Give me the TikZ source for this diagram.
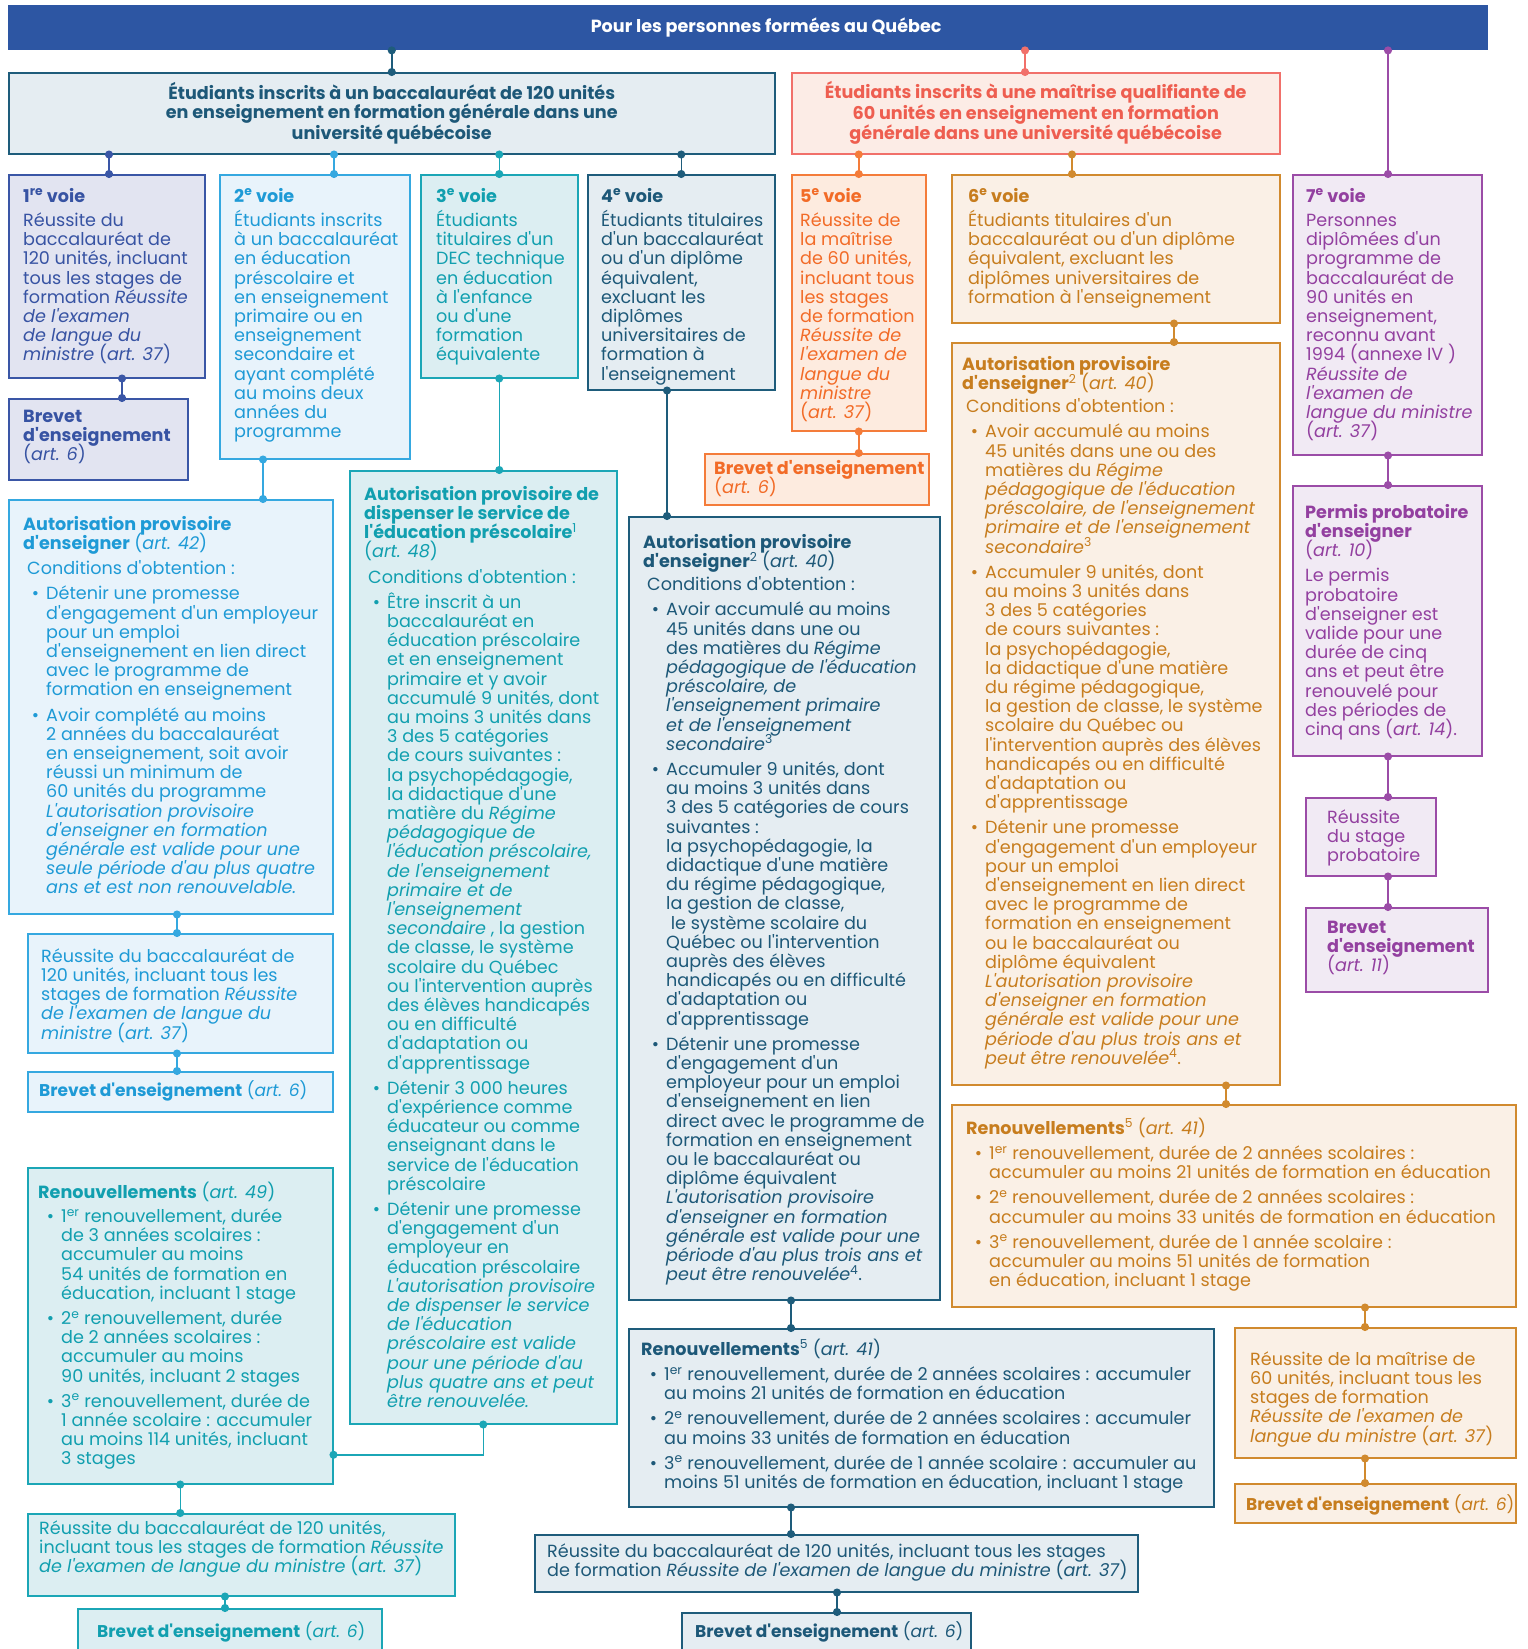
\documentclass[tikz,border=0pt]{standalone}
\usepackage{fontspec}
\setmainfont{Poppins}[Ligatures=TeXOff]
\usetikzlibrary{arrows.meta,positioning}

\definecolor{hdr}{HTML}{2D56A3}
\definecolor{dkline}{HTML}{1E5C7B}\definecolor{dkfill}{HTML}{E5EDF2}\definecolor{dktext}{HTML}{1D5878}
\definecolor{blline}{HTML}{3A56A6}\definecolor{blfill}{HTML}{E2E4F1}\definecolor{bltext}{HTML}{3753A3}
\definecolor{lbline}{HTML}{35A8E0}\definecolor{lbfill}{HTML}{E8F3FB}\definecolor{lbtext}{HTML}{1E9AD6}
\definecolor{tlline}{HTML}{1BA6B6}\definecolor{tlfill}{HTML}{DCEEF2}\definecolor{tltext}{HTML}{119FAF}
\definecolor{pkline}{HTML}{F1706A}\definecolor{pkfill}{HTML}{FCECE6}\definecolor{pktext}{HTML}{EE5E50}
\definecolor{orline}{HTML}{F47C3A}\definecolor{orfill}{HTML}{FDEBDF}\definecolor{ortext}{HTML}{F26B27}
\definecolor{ocline}{HTML}{D18A2E}\definecolor{ocfill}{HTML}{FAF0E6}\definecolor{octext}{HTML}{C77D1E}
\definecolor{puline}{HTML}{9B4CA7}\definecolor{pufill}{HTML}{F1EAF4}\definecolor{putext}{HTML}{9340A0}

\newcommand\body{\fontsize{17.6}{19.2}\selectfont\lineskiplimit=-100pt\lineskip=0pt}
\newcommand\bsmall{\fontsize{17}{19.2}\selectfont}
\newcommand\tp{\rule{0pt}{18pt}}
% bullet and hanging indent
\newcommand\pu{\makebox[23pt][r]{\textbullet\hspace{7pt}}}
\newcommand\nx{\hspace*{23pt}}
\newcommand\cond{\hspace*{4pt}Conditions d'obtention :}

\begin{document}
\begin{tikzpicture}[x=1pt,y=-1pt,
  box/.style={draw=#1line,fill=#1fill,line width=1.5pt,inner sep=0pt,anchor=north west},
  txt/.style={text=#1text,inner sep=0pt,anchor=north west,align=left,font=\body},
  link/.style={draw=#1line,line width=1.5pt,{Circle[length=8pt]}-{Circle[length=8pt]},
    shorten <=-4pt,shorten >=-4pt}]

  \useasboundingbox (0,0) rectangle (1528,1649);

  % top
  \node[fill=hdr,inner sep=0pt,anchor=north west,minimum width=1480pt,minimum height=45pt,
    text=white,font=\bfseries\fontsize{17.6}{19}\selectfont] (header) at (8,5)
    {\hspace*{36pt}Pour les personnes formées au Québec};

  \node[box=dk,minimum width=766pt,minimum height=81pt,align=center,text=dktext,
    font=\bfseries\fontsize{17.6}{18.9}\selectfont] (A) at (8,72)
    {Étudiants inscrits à un baccalauréat de 120 unités\\en enseignement en formation générale dans une\\université québécoise};
  \node[box=pk,minimum width=488pt,minimum height=81pt,align=center,text=pktext,
    font=\bfseries\fontsize{17.6}{18.9}\selectfont] (B) at (791,72)
    {Étudiants inscrits à une maîtrise qualifiante de\\60 unités en enseignement en formation\\générale dans une université québécoise};

  % voies
  \node[box=bl,minimum width=196pt,minimum height=203pt] (v1) at (8,174) {};
  \node[txt=bl] (v1t) at ([shift={(15,10)}]v1.north west)
    {\tp\textbf{1\textsuperscript{re} voie}\\[5pt]Réussite du\\baccalauréat de\\120 unités, incluant\\tous les stages de\\formation \textit{Réussite}\\\textit{de l'examen}\\\textit{de langue du}\\\textit{ministre} (\textit{art. 37})};

  \node[box=lb,minimum width=190pt,minimum height=284pt] (v2) at (219,174) {};
  \node[txt=lb] (v2t) at ([shift={(15,10)}]v2.north west)
    {\tp\textbf{2\textsuperscript{e} voie}\\[5pt]Étudiants inscrits\\à un baccalauréat\\en éducation\\préscolaire et\\en enseignement\\primaire ou en\\enseignement\\secondaire et\\ayant complété\\au moins deux\\années du\\programme};

  \node[box=tl,minimum width=157pt,minimum height=203pt] (v3) at (420,174) {};
  \node[txt=tl] (v3t) at ([shift={(16,10)}]v3.north west)
    {\tp\textbf{3\textsuperscript{e} voie}\\[5pt]Étudiants\\titulaires d'un\\DEC technique\\en éducation\\à l'enfance\\ou d'une\\formation\\équivalente};

  \node[box=dk,minimum width=187pt,minimum height=215pt] (v4) at (587,174) {};
  \node[txt=dk] (v4t) at ([shift={(14,10)}]v4.north west)
    {\tp\textbf{4\textsuperscript{e} voie}\\[5pt]Étudiants titulaires\\d'un baccalauréat\\ou d'un diplôme\\équivalent,\\excluant les\\diplômes\\universitaires de\\formation à\\l'enseignement};

  \node[box=or,minimum width=134pt,minimum height=256pt] (v5) at (791,174) {};
  \node[txt=or] (v5t) at ([shift={(9,10)}]v5.north west)
    {\tp\textbf{5\textsuperscript{e} voie}\\[5pt]Réussite de\\la maîtrise\\de 60 unités,\\incluant tous\\les stages\\de formation\\\textit{Réussite de}\\\textit{l'examen de}\\\textit{langue du}\\\textit{ministre}\\(\textit{art. 37})};

  \node[box=oc,minimum width=328pt,minimum height=148pt] (v6) at (951,174) {};
  \node[txt=oc] (v6t) at ([shift={(17,10)}]v6.north west)
    {\tp\textbf{6\textsuperscript{e} voie}\\[5pt]Étudiants titulaires d'un\\baccalauréat ou d'un diplôme\\équivalent, excluant les\\diplômes universitaires de\\formation à l'enseignement};

  \node[box=pu,minimum width=189pt,minimum height=280pt] (v7) at (1292,174) {};
  \node[txt=pu] (v7t) at ([shift={(14,10)}]v7.north west)
    {\tp\textbf{7\textsuperscript{e} voie}\\[5pt]Personnes\\diplômées d'un\\programme de\\baccalauréat de\\90 unités en\\enseignement,\\reconnu avant\\1994 (annexe IV )\\\textit{Réussite de}\\\textit{l'examen de}\\\textit{langue du ministre}\\(\textit{art. 37})};

  % voie 1
  \node[box=bl,minimum width=179pt,minimum height=81pt] (br1) at (8,398) {};
  \node[txt=bl] (br1t) at ([shift={(15,6)}]br1.north west)
    {\tp\textbf{Brevet}\\\textbf{d'enseignement}\\(\textit{art. 6})};

  % voie 2
  \node[box=lb,minimum width=324pt,minimum height=414pt] (ap2) at (8,499) {};
  \node[txt=lb] (ap2t) at ([shift={(15,13)}]ap2.north west)
    {\tp\textbf{Autorisation provisoire}\\\textbf{d'enseigner} (\textit{art. 42})\\[6pt]\cond\\[6pt]
     \pu Détenir une promesse\\\nx d'engagement d'un employeur\\\nx pour un emploi\\\nx d'enseignement en lien direct\\\nx avec le programme de\\\nx formation en enseignement\\[6pt]
     \pu Avoir complété au moins\\\nx 2 années du baccalauréat\\\nx en enseignement, soit avoir\\\nx réussi un minimum de\\\nx 60 unités du programme\\\nx \textit{L'autorisation provisoire}\\\nx \textit{d'enseigner en formation}\\\nx \textit{générale est valide pour une}\\\nx \textit{seule période d'au plus quatre}\\\nx \textit{ans et est non renouvelable.}};

  \node[box=lb,minimum width=305pt,minimum height=119pt] (re2) at (27,933) {};
  \node[txt=lb] (re2t) at ([shift={(14,11)}]re2.north west)
    {\tp Réussite du baccalauréat de\\120 unités, incluant tous les\\stages de formation \textit{Réussite}\\\textit{de l'examen de langue du}\\\textit{ministre} (\textit{art. 37})};

  \node[box=lb,minimum width=305pt,minimum height=40pt] (br2) at (27,1071) {};
  \node[txt=lb,font=\bsmall] (br2t) at ([shift={(12,7)}]br2.north west)
    {\tp\textbf{Brevet d'enseignement} (\textit{art. 6})};

  % voie 3
  \node[box=tl,minimum width=267pt,minimum height=953pt] (ap3) at (349,470) {};
  \node[txt=tl] (ap3t) at ([shift={(15,12)}]ap3.north west)
    {\tp\textbf{Autorisation provisoire de}\\\textbf{dispenser le service de}\\\textbf{l'éducation préscolaire}\textsuperscript{1}\\(\textit{art. 48})\\[6pt]\cond\\[6pt]
     \pu Être inscrit à un\\\nx baccalauréat en\\\nx éducation préscolaire\\\nx et en enseignement\\\nx primaire et y avoir\\\nx accumulé 9 unités, dont\\\nx au moins 3 unités dans\\\nx 3 des 5 catégories\\\nx de cours suivantes :\\\nx la psychopédagogie,\\\nx la didactique d'une\\\nx matière du \textit{Régime}\\\nx \textit{pédagogique de}\\\nx \textit{l'éducation préscolaire,}\\\nx \textit{de l'enseignement}\\\nx \textit{primaire et de}\\\nx \textit{l'enseignement}\\\nx \textit{secondaire} , la gestion\\\nx de classe, le système\\\nx scolaire du Québec\\\nx ou l'intervention auprès\\\nx des élèves handicapés\\\nx ou en difficulté\\\nx d'adaptation ou\\\nx d'apprentissage\\[6pt]
     \pu Détenir 3 000 heures\\\nx d'expérience comme\\\nx éducateur ou comme\\\nx enseignant dans le\\\nx service de l'éducation\\\nx préscolaire\\[6pt]
     \pu Détenir une promesse\\\nx d'engagement d'un\\\nx employeur en\\\nx éducation préscolaire\\\nx \textit{L'autorisation provisoire}\\\nx \textit{de dispenser le service}\\\nx \textit{de l'éducation}\\\nx \textit{préscolaire est valide}\\\nx \textit{pour une période d'au}\\\nx \textit{plus quatre ans et peut}\\\nx \textit{être renouvelée.}};

  \node[box=tl,minimum width=305pt,minimum height=316pt] (rn3) at (27,1167) {};
  \node[txt=tl] (rn3t) at ([shift={(11,13)}]rn3.north west)
    {\tp\textbf{Renouvellements} (\textit{art. 49})\\[5pt]
     \pu 1\textsuperscript{er} renouvellement, durée\\\nx de 3 années scolaires :\\\nx accumuler au moins\\\nx 54 unités de formation en\\\nx éducation, incluant 1 stage\\[6pt]
     \pu 2\textsuperscript{e} renouvellement, durée\\\nx de 2 années scolaires :\\\nx accumuler au moins\\\nx 90 unités, incluant 2 stages\\[6pt]
     \pu 3\textsuperscript{e} renouvellement, durée de\\\nx 1 année scolaire : accumuler\\\nx au moins 114 unités, incluant\\\nx 3 stages};

  \node[box=tl,minimum width=427pt,minimum height=82pt] (re3) at (27,1513) {};
  \node[txt=tl] (re3t) at ([shift={(12,3)}]re3.north west)
    {\tp Réussite du baccalauréat de 120 unités,\\incluant tous les stages de formation \textit{Réussite}\\\textit{de l'examen de langue du ministre} (\textit{art. 37})};

  \node[box=tl,minimum width=304pt,minimum height=60pt] (br3) at (77,1608) {};
  \node[txt=tl,font=\bsmall] (br3t) at ([shift={(20,11)}]br3.north west)
    {\tp\textbf{Brevet d'enseignement} (\textit{art. 6})};

  % voie 4
  \node[box=dk,minimum width=311pt,minimum height=783pt] (ap4) at (628,516) {};
  \node[txt=dk] (ap4t) at ([shift={(15,14)}]ap4.north west)
    {\tp\textbf{Autorisation provisoire}\\\textbf{d'enseigner}\textsuperscript{2} (\textit{art. 40})\\[4pt]\cond\\[6pt]
     \pu Avoir accumulé au moins\\\nx 45 unités dans une ou\\\nx des matières du \textit{Régime}\\\nx \textit{pédagogique de l'éducation}\\\nx \textit{préscolaire, de}\\\nx \textit{l'enseignement primaire}\\\nx \textit{et de l'enseignement}\\\nx \textit{secondaire}\textsuperscript{3}\\[6pt]
     \pu Accumuler 9 unités, dont\\\nx au moins 3 unités dans\\\nx 3 des 5 catégories de cours\\\nx suivantes :\\\nx la psychopédagogie, la\\\nx didactique d'une matière\\\nx du régime pédagogique,\\\nx la gestion de classe,\\\nx \ le système scolaire du\\\nx Québec ou l'intervention\\\nx auprès des élèves\\\nx handicapés ou en difficulté\\\nx d'adaptation ou\\\nx d'apprentissage\\[6pt]
     \pu Détenir une promesse\\\nx d'engagement d'un\\\nx employeur pour un emploi\\\nx d'enseignement en lien\\\nx direct avec le programme de\\\nx formation en enseignement\\\nx ou le baccalauréat ou\\\nx diplôme équivalent\\\nx \textit{L'autorisation provisoire}\\\nx \textit{d'enseigner en formation}\\\nx \textit{générale est valide pour une}\\\nx \textit{période d'au plus trois ans et}\\\nx \textit{peut être renouvelée}\textsuperscript{4}.};

  \node[box=dk,minimum width=585pt,minimum height=178pt] (rn4) at (628,1328) {};
  \node[txt=dk] (rn4t) at ([shift={(13,9)}]rn4.north west)
    {\tp\textbf{Renouvellements}\textsuperscript{5} (\textit{art. 41})\\[6pt]
     \pu 1\textsuperscript{er} renouvellement, durée de 2 années scolaires : accumuler\\\nx au moins 21 unités de formation en éducation\\[6pt]
     \pu 2\textsuperscript{e} renouvellement, durée de 2 années scolaires : accumuler\\\nx au moins 33 unités de formation en éducation\\[6pt]
     \pu 3\textsuperscript{e} renouvellement, durée de 1 année scolaire : accumuler au\\\nx moins 51 unités de formation en éducation, incluant 1 stage};

  \node[box=dk,minimum width=603pt,minimum height=57pt] (re4) at (534,1534) {};
  \node[txt=dk] (re4t) at ([shift={(13,5)}]re4.north west)
    {\tp Réussite du baccalauréat de 120 unités, incluant tous les stages\\de formation \textit{Réussite de l'examen de langue du ministre} (\textit{art. 37})};

  \node[box=dk,minimum width=289pt,minimum height=60pt] (br4) at (681,1612) {};
  \node[txt=dk,font=\bsmall] (br4t) at ([shift={(14,7)}]br4.north west)
    {\tp\textbf{Brevet d'enseignement} (\textit{art. 6})};

  % voie 5
  \node[box=or,minimum width=224pt,minimum height=51pt] (br5) at (704,453) {};
  \node[txt=or] (br5t) at ([shift={(10,3)}]br5.north west)
    {\tp\textbf{Brevet d'enseignement}\\(\textit{art. 6})};

  % voie 6
  \node[box=oc,minimum width=328pt,minimum height=742pt] (ap6) at (951,342) {};
  \node[txt=oc] (ap6t) at ([shift={(11,10)}]ap6.north west)
    {\tp\textbf{Autorisation provisoire}\\\textbf{d'enseigner}\textsuperscript{2} (\textit{art. 40})\\[4pt]\cond\\[6pt]
     \pu Avoir accumulé au moins\\\nx 45 unités dans une ou des\\\nx matières du \textit{Régime}\\\nx \textit{pédagogique de l'éducation}\\\nx \textit{préscolaire, de l'enseignement}\\\nx \textit{primaire et de l'enseignement}\\\nx \textit{secondaire}\textsuperscript{3}\\[6pt]
     \pu Accumuler 9 unités, dont\\\nx au moins 3 unités dans\\\nx 3 des 5 catégories\\\nx de cours suivantes :\\\nx la psychopédagogie,\\\nx la didactique d'une matière\\\nx du régime pédagogique,\\\nx la gestion de classe, le système\\\nx scolaire du Québec ou\\\nx l'intervention auprès des élèves\\\nx handicapés ou en difficulté\\\nx d'adaptation ou\\\nx d'apprentissage\\[6pt]
     \pu Détenir une promesse\\\nx d'engagement d'un employeur\\\nx pour un emploi\\\nx d'enseignement en lien direct\\\nx avec le programme de\\\nx formation en enseignement\\\nx ou le baccalauréat ou\\\nx diplôme équivalent\\\nx \textit{L'autorisation provisoire}\\\nx \textit{d'enseigner en formation}\\\nx \textit{générale est valide pour une}\\\nx \textit{période d'au plus trois ans et}\\\nx \textit{peut être renouvelée}\textsuperscript{4}.};

  \node[box=oc,minimum width=564pt,minimum height=202pt] (rn6) at (951,1104) {};
  \node[txt=oc] (rn6t) at ([shift={(15,12)}]rn6.north west)
    {\tp\textbf{Renouvellements}\textsuperscript{5} (\textit{art. 41})\\[6pt]
     \pu 1\textsuperscript{er} renouvellement, durée de 2 années scolaires :\\\nx accumuler au moins 21 unités de formation en éducation\\[6pt]
     \pu 2\textsuperscript{e} renouvellement, durée de 2 années scolaires :\\\nx accumuler au moins 33 unités de formation en éducation\\[6pt]
     \pu 3\textsuperscript{e} renouvellement, durée de 1 année scolaire :\\\nx accumuler au moins 51 unités de formation\\\nx en éducation, incluant 1 stage};

  \node[box=oc,minimum width=281pt,minimum height=130pt] (re6) at (1234,1327) {};
  \node[txt=oc] (re6t) at ([shift={(16,20)}]re6.north west)
    {\tp Réussite de la maîtrise de\\60 unités, incluant tous les\\stages de formation\\\textit{Réussite de l'examen de}\\\textit{langue du ministre} (\textit{art. 37})};

  \node[box=oc,minimum width=281pt,minimum height=39pt] (br6) at (1234,1483) {};
  \node[txt=oc,font=\bsmall] (br6t) at ([shift={(12,9)}]br6.north west)
    {\tp\textbf{Brevet d'enseignement} (\textit{art. 6})};

  % voie 7
  \node[box=pu,minimum width=189pt,minimum height=270pt] (pp7) at (1292,485) {};
  \node[txt=pu] (pp7t) at ([shift={(13,15)}]pp7.north west)
    {\tp\textbf{Permis probatoire}\\\textbf{d'enseigner}\\(\textit{art. 10})\\[6pt]Le permis\\probatoire\\d'enseigner est\\valide pour une\\durée de cinq\\ans et peut être\\renouvelé pour\\des périodes de\\cinq ans (\textit{art. 14}).};

  \node[box=pu,minimum width=130pt,minimum height=78pt] (st7) at (1305,797) {};
  \node[txt=pu] (st7t) at ([shift={(22,8)}]st7.north west)
    {\tp Réussite\\du stage\\probatoire};

  \node[box=pu,minimum width=182pt,minimum height=84pt] (br7) at (1305,907) {};
  \node[txt=pu] (br7t) at ([shift={(22,8)}]br7.north west)
    {\tp\textbf{Brevet}\\\textbf{d'enseignement}\\(\textit{art. 11})};

  % links
  \draw[link=dk] (header.south -| A.north) -- (A.north);
  \draw[link=pk] (header.south -| 1025,0) -- (B.north -| 1025,0);
  \draw[link=pu] (header.south -| 1388,0) -- (v7.north -| 1388,0);

  \draw[link=bl] (A.south -| 109,0) -- (v1.north -| 109,0);
  \draw[link=lb] (A.south -| 334,0) -- (v2.north -| 334,0);
  \draw[link=tl] (A.south -| v3.north) -- (v3.north);
  \draw[link=dk] (A.south -| v4.north) -- (v4.north);
  \draw[link=or] (B.south -| v5.north) -- (v5.north);
  \draw[link=oc] (B.south -| 1072,0) -- (v6.north -| 1072,0);

  \draw[link=bl] (v1.south -| 122,0) -- (br1.north -| 122,0);

  \draw[link=lb] (v2.south -| 263,0) -- (ap2.north -| 263,0);
  \draw[link=lb] (ap2.south -| 177,0) -- (re2.north -| 177,0);
  \draw[link=lb] (re2.south -| 177,0) -- (br2.north -| 177,0);

  \draw[link=tl] (v3.south) -- (ap3.north -| v3.south);
  \draw[link=tl] (ap3.south) |- ([yshift=-129pt]rn3.east);
  \draw[link=tl] (rn3.south) -- (re3.north -| rn3.south);
  \draw[link=tl] (re3.south -| 225,0) -- (br3.north -| 225,0);

  \draw[link=dk] (v4.south -| 667,0) -- (ap4.north -| 667,0);
  \draw[link=dk] (ap4.south -| 791,0) -- (rn4.north -| 791,0);
  \draw[link=dk] (rn4.south -| 791,0) -- (re4.north -| 791,0);
  \draw[link=dk] (re4.south -| 837,0) -- (br4.north -| 837,0);

  \draw[link=or] (v5.south) -- (br5.north -| v5.south);

  \draw[link=oc] (v6.south -| 1174,0) -- (ap6.north -| 1174,0);
  \draw[link=oc] (ap6.south -| 1226,0) -- (rn6.north -| 1226,0);
  \draw[link=oc] (rn6.south -| 1365,0) -- (re6.north -| 1365,0);
  \draw[link=oc] (re6.south -| 1365,0) -- (br6.north -| 1365,0);

  \draw[link=pu] (v7.south -| 1388,0) -- (pp7.north -| 1388,0);
  \draw[link=pu] (pp7.south -| 1388,0) -- (st7.north -| 1388,0);
  \draw[link=pu] (st7.south -| 1388,0) -- (br7.north -| 1388,0);
\end{tikzpicture}
\end{document}
